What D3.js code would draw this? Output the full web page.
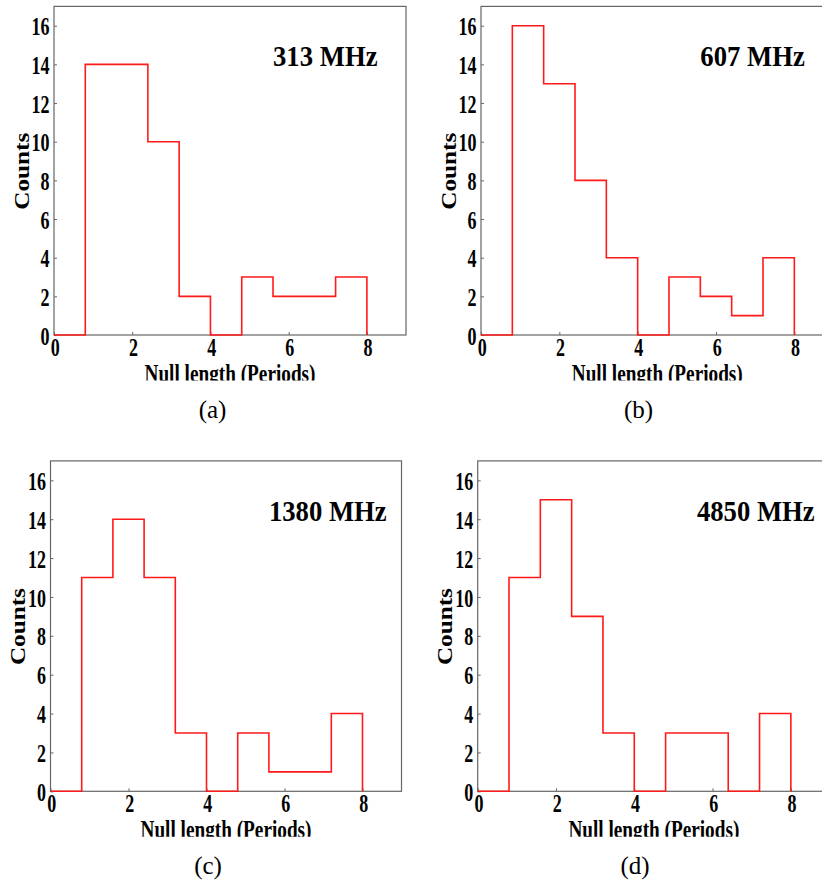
<!DOCTYPE html>
<html>
<head>
<meta charset="utf-8">
<script src="https://cdn.jsdelivr.net/npm/d3@7"></script>
<style>
  html, body { margin: 0; padding: 0; background: #fff; }
  svg { display: block; }
  text { font-family: "Liberation Serif", "Times New Roman", serif; fill: #000; }
</style>
</head>
<body>
<svg id="chart" width="822" height="884"></svg>
<script>
// ---------------- data ----------------
const binEdges = [0, 0.8, 1.6, 2.4, 3.2, 4.0, 4.8, 5.6, 6.4, 7.2, 8.0];
const counts313  = [0, 14, 14, 10, 2, 0, 3, 2, 2, 3];
const counts607  = [0, 16, 13, 8, 4, 0, 3, 2, 1, 4];
const counts1380 = [0, 11, 14, 11, 3, 0, 3, 1, 1, 4];
const counts4850 = [0, 11, 15, 9, 3, 0, 3, 3, 0, 4];
const bandLabels = ["313 MHz", "607 MHz", "1380 MHz", "4850 MHz"];
const panelTags = ["(a)", "(b)", "(c)", "(d)"];
const xTicks = [0, 2, 4, 6, 8];
const yTicks = [0, 2, 4, 6, 8, 10, 12, 14, 16];
const xLabel = "Null length (Periods)";
const yLabel = "Counts";
const xDomain = [0, 9];
const yDomain = [0, 17];

// ---------------- layout (pixels) ----------------
const panels = [
  { counts: counts313,  xr: [54, 406],    yr: [335, 6.4],     capX: 212.5, capY: 417.5, ylabX: 29.3 },
  { counts: counts607,  xr: [481, 833.5], yr: [335, 6.4],     capX: 638.5, capY: 417.5, ylabX: 456 },
  { counts: counts1380, xr: [50.5, 401.5], yr: [791.3, 460.9], capX: 208,   capY: 873.5, ylabX: 25 },
  { counts: counts4850, xr: [477.7, 830], yr: [791.3, 460.9], capX: 635,   capY: 873.5, ylabX: 452.3 }
];

const svg = d3.select("#chart");
const frameColor = "#666";
const lineColor = "#ff1a1a";

panels.forEach((p, i) => {
  const x = d3.scaleLinear().domain(xDomain).range(p.xr);
  const y = d3.scaleLinear().domain(yDomain).range(p.yr);
  const g = svg.append("g");

  // frame
  g.append("rect")
    .attr("x", p.xr[0]).attr("y", p.yr[1])
    .attr("width", p.xr[1] - p.xr[0]).attr("height", p.yr[0] - p.yr[1])
    .attr("fill", "none").attr("stroke", frameColor).attr("stroke-width", 1.2);

  // y axis ticks (inward)
  const yAxis = d3.axisRight(y).tickValues(yTicks).tickSize(3).tickFormat("");
  const ya = g.append("g").attr("transform", `translate(${p.xr[0]},0)`).call(yAxis);
  ya.select(".domain").remove();
  ya.selectAll("line").attr("stroke", frameColor);

  // x axis ticks (inward)
  const xAxis = d3.axisTop(x).tickValues(xTicks).tickSize(3).tickFormat("");
  const xa = g.append("g").attr("transform", `translate(0,${p.yr[0]})`).call(xAxis);
  xa.select(".domain").remove();
  xa.selectAll("line").attr("stroke", frameColor);

  // y tick labels
  g.selectAll(".ytl").data(yTicks).enter().append("text")
    .attr("transform", d => `translate(${p.xr[0] - 4.5},${y(d) + 9.6}) scale(0.72,1)`)
    .attr("text-anchor", "end")
    .style("font-size", "25px").style("font-weight", "bold")
    .text(d => d);

  // x tick labels
  g.selectAll(".xtl").data(xTicks).enter().append("text")
    .attr("transform", d => `translate(${x(d) + 1.2},${p.yr[0] + 20.5}) scale(0.72,1)`)
    .attr("text-anchor", "middle")
    .style("font-size", "25px").style("font-weight", "bold")
    .text(d => d);

  // histogram step outline
  const path = d3.path();
  path.moveTo(x(binEdges[0]), y(0));
  p.counts.forEach((c, k) => {
    path.lineTo(x(binEdges[k]), y(c));
    path.lineTo(x(binEdges[k + 1]), y(c));
  });
  path.lineTo(x(binEdges[binEdges.length - 1]), y(0));
  g.append("path")
    .attr("d", path.toString())
    .attr("fill", "none").attr("stroke", lineColor).attr("stroke-width", 1.6)
    .attr("stroke-linejoin", "miter");

  // band label
  g.append("text")
    .attr("transform", `translate(${x(5.6)},${y(13.9)}) scale(0.92,1)`)
    .style("font-size", "29px").style("font-weight", "bold")
    .text(bandLabels[i]);

  // y label
  g.append("text")
    .attr("transform", `translate(${p.ylabX},${(p.yr[0] + p.yr[1]) / 2 + 0.5}) rotate(-90) scale(1.2,1)`)
    .attr("text-anchor", "middle")
    .style("font-size", "21px").style("font-weight", "bold")
    .text(yLabel);

  // x label (clipped at the bottom like the reference)
  const clipId = "clip" + i;
  const base = p.yr[0] + 46.5;
  svg.append("clipPath").attr("id", clipId)
    .append("rect").attr("x", p.xr[0] - 60).attr("y", base - 40)
    .attr("width", 460).attr("height", 39);
  g.append("g").attr("clip-path", `url(#${clipId})`)
    .append("text")
    .attr("transform", `translate(${(p.xr[0] + p.xr[1]) / 2},${base}) scale(0.74,1)`)
    .attr("text-anchor", "middle")
    .style("font-size", "26px").style("font-weight", "bold")
    .text(xLabel);

  // panel caption
  g.append("text")
    .attr("x", p.capX).attr("y", p.capY)
    .attr("text-anchor", "middle")
    .style("font-size", "25px")
    .text(panelTags[i]);
});
</script>
</body>
</html>
